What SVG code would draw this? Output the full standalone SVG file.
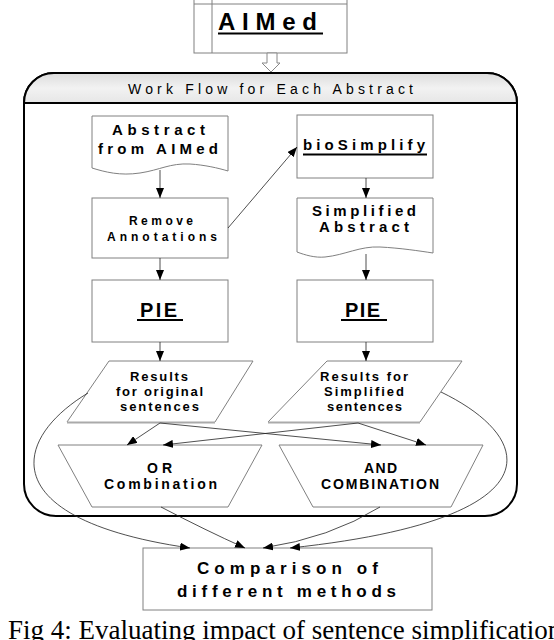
<svg xmlns="http://www.w3.org/2000/svg" width="554" height="640" viewBox="0 0 554 640">
<defs>
<linearGradient id="hdr" x1="0" y1="0" x2="0" y2="1">
<stop offset="0" stop-color="#dcdcdc"/>
<stop offset="0.5" stop-color="#f2f2f2"/>
<stop offset="1" stop-color="#e6e6e6"/>
</linearGradient>
<marker id="ah" markerUnits="userSpaceOnUse" markerWidth="10" markerHeight="8" refX="10" refY="4" orient="auto">
<path d="M0,0 L10,4 L0,8 Z" fill="#000"/>
</marker>
</defs>
<style>
.n{fill:#fff;stroke:#808080;stroke-width:1}
.t{font-family:"Liberation Sans",Arial,sans-serif;font-weight:bold;fill:#000}
.c{fill:none;stroke:#222;stroke-width:0.8;marker-end:url(#ah)}
.u{stroke:#000;stroke-width:2}
.sh{stroke:#aaa;stroke-width:2}
</style>
<rect width="554" height="640" fill="#fff"/>

<g id="container">
<path d="M24,484 V103 A30,30 0 0 1 54,73 H487 A30,30 0 0 1 517,103 V484 A32,32 0 0 1 485,516 H56 A32,32 0 0 1 24,484 Z" fill="#fff" stroke="#000" stroke-width="2"/>
<path d="M24,103 A30,30 0 0 1 54,73 H487 A30,30 0 0 1 517,103 Z" fill="url(#hdr)" stroke="#000" stroke-width="2"/>
<text x="128" y="94" font-family="Liberation Sans,Arial,sans-serif" font-size="14" textLength="285" lengthAdjust="spacing">Work Flow for Each Abstract</text>
</g>

<g id="aimed">
<rect class="n" x="194" y="-20" width="153" height="73"/>
<line x1="194" y1="4" x2="347" y2="4" stroke="#808080"/>
<line x1="212" y1="-20" x2="212" y2="53" stroke="#808080"/>
<text class="t" x="218" y="30" font-size="24" textLength="99" lengthAdjust="spacing">AIMed</text>
<line class="u" x1="218" y1="33.5" x2="323" y2="33.5"/>
</g>

<g id="abstract">
<path class="n" d="M92,168 V116 H228 V171 C218,168 205,165 190,164 C170,163 160,170 140,173 C120,176 105,172 92,168 Z"/>
<text class="t" x="112" y="135" font-size="15" textLength="93" lengthAdjust="spacing">Abstract</text>
<text class="t" x="98" y="154" font-size="15" textLength="120" lengthAdjust="spacing">from AIMed</text>
</g>

<g id="remove">
<rect class="n" x="92" y="198" width="136" height="60"/>
<text class="t" x="129" y="225" font-size="12" textLength="64" lengthAdjust="spacing">Remove</text>
<text class="t" x="107" y="241" font-size="12" textLength="110" lengthAdjust="spacing">Annotations</text>
</g>

<g id="pie1">
<rect class="n" x="92" y="280" width="136" height="62"/>
<text class="t" x="140" y="317" font-size="20" textLength="37" lengthAdjust="spacing">PIE</text>
<line class="u" x1="137" y1="320" x2="183" y2="320"/>
</g>

<g id="results1">
<path class="n" d="M215,422 L253,361 H109 L67,422"/>
<line class="sh" x1="67" y1="422.5" x2="215" y2="422.5"/>
<text class="t" x="130" y="381" font-size="13" textLength="58" lengthAdjust="spacing">Results</text>
<text class="t" x="116" y="396" font-size="13" textLength="87" lengthAdjust="spacing">for original</text>
<text class="t" x="120" y="411" font-size="13" textLength="79" lengthAdjust="spacing">sentences</text>
</g>

<g id="biosimplify">
<rect class="n" x="297" y="115" width="136" height="63"/>
<text class="t" x="303" y="150" font-size="15" textLength="122" lengthAdjust="spacing">bioSimplify</text>
<line class="u" x1="303" y1="154.5" x2="427" y2="154.5"/>
</g>

<g id="simplified">
<path class="n" d="M297,252 V198 H433 V253 C420,251 400,248 380,247 C360,246 345,255 325,257 C315,258 305,255 297,252 Z"/>
<text class="t" x="312" y="216" font-size="15" textLength="104" lengthAdjust="spacing">Simplified</text>
<text class="t" x="319" y="232" font-size="15" textLength="90" lengthAdjust="spacing">Abstract</text>
</g>

<g id="pie2">
<rect class="n" x="297" y="280" width="136" height="62"/>
<text class="t" x="345" y="317" font-size="20" textLength="35" lengthAdjust="spacing">PIE</text>
<line class="u" x1="341" y1="320" x2="387" y2="320"/>
</g>

<g id="results2">
<path class="n" d="M420,422 L462,361 H327 L268,422"/>
<line class="sh" x1="268" y1="422.5" x2="420" y2="422.5"/>
<text class="t" x="320" y="381" font-size="13" textLength="88" lengthAdjust="spacing">Results for</text>
<text class="t" x="324" y="396" font-size="13" textLength="80" lengthAdjust="spacing">Simplified</text>
<text class="t" x="327" y="411" font-size="13" textLength="75" lengthAdjust="spacing">sentences</text>
</g>

<g id="or">
<path class="n" d="M58,445 H262 L228,507 H92 Z"/>
<text class="t" x="147" y="473" font-size="14" textLength="25" lengthAdjust="spacing">OR</text>
<text class="t" x="104" y="489" font-size="14" textLength="113" lengthAdjust="spacing">Combination</text>
</g>

<g id="and">
<path class="n" d="M279,445 H483 L451,507 H313 Z"/>
<text class="t" x="364" y="473" font-size="14" textLength="33" lengthAdjust="spacing">AND</text>
<text class="t" x="321" y="489" font-size="14" textLength="118" lengthAdjust="spacing">COMBINATION</text>
</g>

<g id="comparison">
<rect class="n" x="143" y="548" width="289" height="62"/>
<text class="t" x="197" y="574" font-size="17" textLength="181" lengthAdjust="spacing">Comparison of</text>
<text class="t" x="177" y="597" font-size="17" textLength="219" lengthAdjust="spacing">different methods</text>
</g>

<g id="connectors">
<path d="M267,53 H277 V63 H280 L271,72 L262,63 H267 Z" fill="#fff" stroke="#888" stroke-width="1"/>
<path class="c" d="M160,170 V198"/>
<path class="c" d="M160,258 V280"/>
<path class="c" d="M160,342 V361"/>
<path class="c" d="M228,228 L297,147"/>
<path class="c" d="M366,178 V198"/>
<path class="c" d="M366,254 V280"/>
<path class="c" d="M366,342 V361"/>
<path class="c" d="M160,423 L127,445"/>
<path class="c" d="M160,423 L381,445"/>
<path class="c" d="M358,423 L163,445"/>
<path class="c" d="M358,423 L426,445"/>
<path class="c" d="M88,393 C10,440 -5,520 190,548"/>
<path class="c" d="M161,507 Q205,530 245,548"/>
<path class="c" d="M380,507 Q330,538 263,548"/>
<path class="c" d="M441,392 C540,440 555,520 290,548"/>
</g>

<text x="8" y="639" font-family="Liberation Serif,Times New Roman,serif" font-size="27" fill="#000">Fig 4: Evaluating impact of sentence simplification</text>
</svg>
